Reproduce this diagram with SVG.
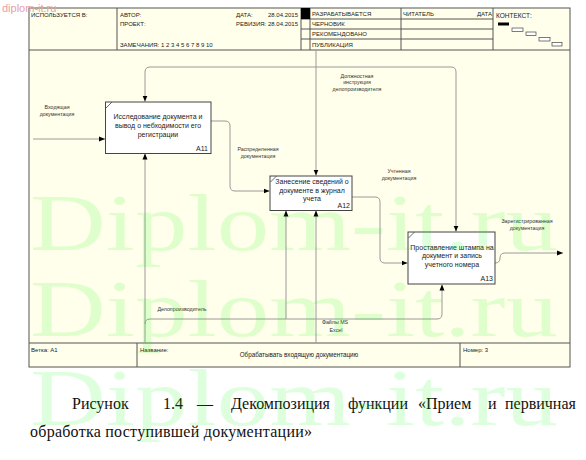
<svg xmlns="http://www.w3.org/2000/svg" width="586" height="460" viewBox="0 0 586 460">
<defs>
<style>
.hdr{font-family:"Liberation Sans",Arial,sans-serif;font-size:6px;fill:#222}
.ft{font-family:"Liberation Sans",Arial,sans-serif;font-size:6px;fill:#222}
.grid{stroke:#555;stroke-width:1;fill:none}
.box{fill:#fff;stroke:#444;stroke-width:1}
.btxt{font-family:"Liberation Sans",Arial,sans-serif;font-size:7px;fill:#222;text-anchor:middle}
.bid{font-family:"Liberation Sans",Arial,sans-serif;font-size:7px;fill:#222;text-anchor:end}
.conn{fill:none;stroke:#9a9a9a;stroke-width:1}
.lbl{font-family:"Liberation Sans",Arial,sans-serif;font-size:5.3px;fill:#333;text-anchor:middle}
.cap{font-family:"Liberation Serif","Times New Roman",serif;font-size:16px;fill:#111}
.wm{font-family:"Liberation Serif","Times New Roman",serif;font-size:80px;fill:#00ff00;fill-opacity:0.13}
</style>
<marker id="ah" markerWidth="6" markerHeight="6" refX="6" refY="3" orient="auto" markerUnits="userSpaceOnUse"><path d="M0,0.5 L6,3 L0,5.5 z" fill="#000"/></marker>
</defs>
<rect width="586" height="460" fill="#fff"/>
<g id="frame">
<rect x="29" y="8" width="541" height="359" fill="#FFFFEB" stroke="#555"/>
<line class="grid" x1="29" y1="50" x2="570" y2="50"/>
<line class="grid" x1="117" y1="8" x2="117" y2="50"/>
<line class="grid" x1="301" y1="8" x2="301" y2="50"/>
<line class="grid" x1="310" y1="8" x2="310" y2="50"/>
<line class="grid" x1="401" y1="8" x2="401" y2="50"/>
<line class="grid" x1="493" y1="8" x2="493" y2="50"/>
<line class="grid" x1="301" y1="19" x2="493" y2="19"/>
<line class="grid" x1="301" y1="29" x2="493" y2="29"/>
<line class="grid" x1="301" y1="39" x2="493" y2="39"/>
<rect x="301" y="8" width="9" height="11" fill="#000"/>
<text class="hdr" x="31" y="17">ИСПОЛЬЗУЕТСЯ В:</text>
<text class="hdr" x="120" y="17">АВТОР:</text>
<text class="hdr" x="120" y="26">ПРОЕКТ:</text>
<text class="hdr" x="120" y="47">ЗАМЕЧАНИЯ:  1  2  3  4  5  6  7  8  9  10</text>
<text class="hdr" x="236" y="17">ДАТА:</text>
<text class="hdr" x="268" y="17">28.04.2015</text>
<text class="hdr" x="236" y="26">РЕВИЗИЯ:</text>
<text class="hdr" x="268" y="26">28.04.2015</text>
<text class="hdr" x="312" y="16">РАЗРАБАТЫВАЕТСЯ</text>
<text class="hdr" x="312" y="26">ЧЕРНОВИК</text>
<text class="hdr" x="312" y="36">РЕКОМЕНДОВАНО</text>
<text class="hdr" x="312" y="47">ПУБЛИКАЦИЯ</text>
<text class="hdr" x="403" y="16">ЧИТАТЕЛЬ</text>
<text class="hdr" x="492" y="16" text-anchor="end">ДАТА</text>
<text class="hdr" x="496" y="18" style="font-size:6.5px">КОНТЕКСТ:</text>
<rect x="498" y="22.5" width="11" height="3" fill="#000"/>
<rect x="512" y="28" width="11" height="3.5" fill="#fff" stroke="#444" stroke-width="0.7"/>
<rect x="526" y="32" width="10" height="3.5" fill="#fff" stroke="#444" stroke-width="0.7"/>
<rect x="539" y="37.5" width="11" height="3.5" fill="#fff" stroke="#444" stroke-width="0.7"/>
<rect x="552" y="42.5" width="10" height="3.5" fill="#fff" stroke="#444" stroke-width="0.7"/>
<line class="grid" x1="29" y1="343" x2="570" y2="343"/>
<line class="grid" x1="137" y1="343" x2="137" y2="367"/>
<line class="grid" x1="460" y1="343" x2="460" y2="367"/>
<text class="ft" x="31" y="352">Ветка: A1</text>
<text class="ft" x="140" y="352">Название:</text>
<text class="ft" x="299" y="357" text-anchor="middle" style="font-size:6.3px">Обрабатывать входящую документацию</text>
<text class="ft" x="463" y="352">Номер: 3</text>
</g>
<g id="connectors">
<path class="conn" d="M33,139 H105" marker-end="url(#ah)"/>
<path class="conn" d="M316,50 V175.5" marker-end="url(#ah)"/>
<path class="conn" d="M316,67 H150 Q145,67 145,72 V101.5" marker-end="url(#ah)"/>
<path class="conn" d="M316,67 H451 Q456,67 456,72 V231.5" marker-end="url(#ah)"/>
<path class="conn" d="M211,121 H225 Q230,121 230,126 V186 Q230,191 235,191 H269.5" marker-end="url(#ah)"/>
<path class="conn" d="M352,197 H375 Q380,197 380,202 V258 Q380,263 385,263 H407.5" marker-end="url(#ah)"/>
<path class="conn" d="M495,263 Q500,263 500,258 Q500,253 505,253 H563" marker-end="url(#ah)"/>
<path class="conn" d="M145,343 V153.5" marker-end="url(#ah)"/>
<path class="conn" d="M145,324 Q145,319 150,319 H437 Q442,319 442,314 V284.5" marker-end="url(#ah)"/>
<path class="conn" d="M286,319 V210.5" marker-end="url(#ah)"/>
<path class="conn" d="M316,343 V210.5" marker-end="url(#ah)"/>
</g>
<g id="A11">
<rect class="box" x="105.5" y="102" width="105.5" height="51.5"/>
<line x1="106" y1="108" x2="112" y2="102" stroke="#444" stroke-width="0.8"/>
<text class="btxt" x="158" y="119">Исследование документа и</text>
<text class="btxt" x="158" y="128">вывод о небходимости его</text>
<text class="btxt" x="158" y="137">регистрации</text>
<text class="bid" x="208" y="151">A11</text>
</g>
<g id="A12">
<rect class="box" x="270" y="176" width="82" height="34.5"/>
<line x1="270.5" y1="182" x2="276.5" y2="176" stroke="#444" stroke-width="0.8"/>
<text class="btxt" x="312" y="184">Занесение сведений о</text>
<text class="btxt" x="312" y="193">документе в журнал</text>
<text class="btxt" x="312" y="201">учета</text>
<text class="bid" x="350" y="208">A12</text>
</g>
<g id="A13">
<rect class="box" x="408" y="232" width="87" height="52"/>
<line x1="408.5" y1="238" x2="414.5" y2="232" stroke="#444" stroke-width="0.8"/>
<text class="btxt" x="452" y="250">Проставление штампа на</text>
<text class="btxt" x="452" y="258">документ и запись</text>
<text class="btxt" x="452" y="267">учетного номера</text>
<text class="bid" x="493" y="281">A13</text>
</g>
<g id="labels">
<text class="lbl" x="57" y="109">Входящая</text>
<text class="lbl" x="57" y="116">документация</text>
<text class="lbl" x="357" y="78">Должностная</text>
<text class="lbl" x="357" y="84">инструкция</text>
<text class="lbl" x="357" y="91">делопроизводителя</text>
<text class="lbl" x="258" y="151">Распределенная</text>
<text class="lbl" x="258" y="158">документация</text>
<text class="lbl" x="399" y="173">Учтенная</text>
<text class="lbl" x="399" y="180">документация</text>
<text class="lbl" x="527" y="223">Зарегистрированная</text>
<text class="lbl" x="527" y="230">документация</text>
<text class="lbl" x="182" y="311">Делопроизводитель</text>
<text class="lbl" x="335" y="324">Файлы MS</text>
<text class="lbl" x="336" y="332">Excel</text>
</g>
<g id="caption">
<text class="cap" y="409"><tspan x="72">Рисунок</tspan><tspan x="163">1.4</tspan><tspan x="197">—</tspan><tspan x="231">Декомпозиция</tspan><tspan x="348">функции</tspan><tspan x="418">«Прием</tspan><tspan x="488">и</tspan><tspan x="505">первичная</tspan></text>
<text class="cap" x="30" y="437" textLength="282" lengthAdjust="spacing">обработка поступившей документации»</text>
</g>
<g id="watermark">
<text x="2" y="12" style="font-family:'Liberation Sans',Arial,sans-serif;font-size:11px;fill:#e8a0a8">diplom-it.ru</text>
<text class="wm" x="30" y="250" textLength="528" lengthAdjust="spacingAndGlyphs">Diplom-it.ru</text>
<text class="wm" x="30" y="336" textLength="528" lengthAdjust="spacingAndGlyphs">Diplom-it.ru</text>
<text class="wm" x="30" y="425" textLength="528" lengthAdjust="spacingAndGlyphs">Diplom-it.ru</text>
</g>
</svg>
